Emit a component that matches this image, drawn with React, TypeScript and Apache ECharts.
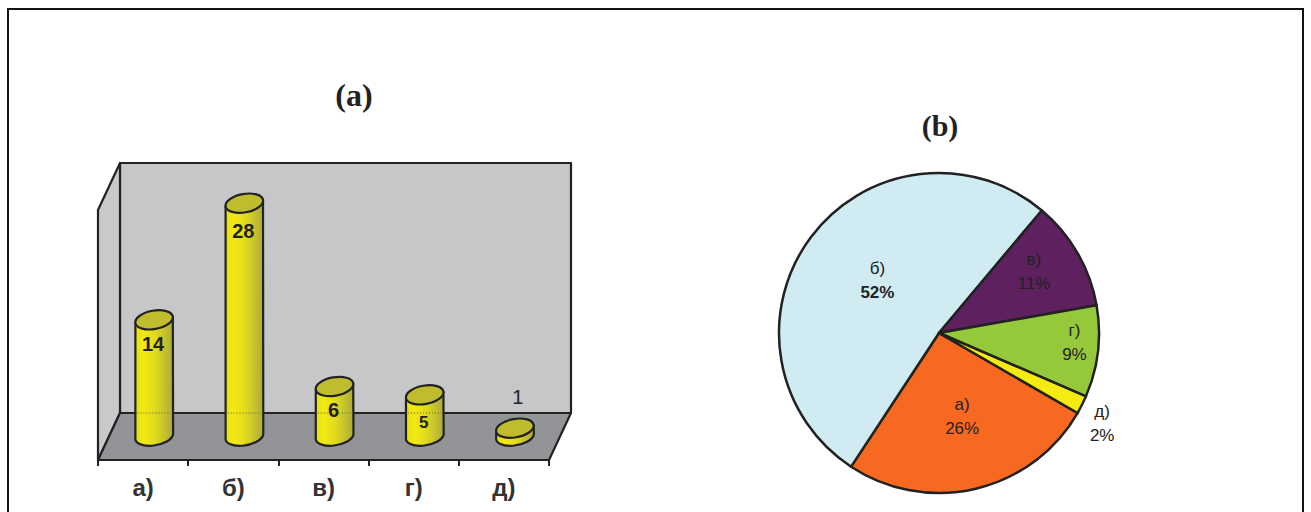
import React, { useEffect, useRef } from "react";
import * as echarts from "echarts";

// Survey answers shown both as counts and as shares of the total.
const categories = ["а)", "б)", "в)", "г)", "д)"];
const counts = [14, 28, 6, 5, 1];

const pieColors = ["#f76820", "#d0ecf2", "#5f2060", "#96c83c", "#f4ec10"];

// Value label placement relative to the top of each cylinder, and its type size.
const countLabelOffsets = [24, 28, 23, 28, -31];
const countLabelSizes = [20, 20, 20, 17, 20];
const countLabelWeights = ["bold", "bold", "bold", "bold", "normal"];

// Pie label nudges from the default inside position.
const pieLabelNudges = [
  [4, 3],
  [5, -3],
  [23, -20],
  [53, 0],
  [89, 53],
];

const SANS = '"Liberation Sans", Arial, sans-serif';
const SERIF = '"Liberation Serif", "Times New Roman", serif';
const INK = "#222222";

// Depth of the 3D box, in pixels.
const DEPTH_X = 22;
const DEPTH_Y = -47;

const CYL_RX = 19;
const CYL_RY = 9.2;
const CYL_TILT = 10;
const CYL_BASE_LIFT = 2;

function renderBox(params: any) {
  const { x, y, width, height } = params.coordSys;
  const bottom = y + height;
  const line = { stroke: INK, lineWidth: 2.2, lineJoin: "round" };
  return {
    type: "group",
    children: [
      {
        type: "polygon",
        shape: {
          points: [
            [x + DEPTH_X, y + DEPTH_Y],
            [x + width + DEPTH_X, y + DEPTH_Y],
            [x + width + DEPTH_X, bottom + DEPTH_Y],
            [x + DEPTH_X, bottom + DEPTH_Y],
          ],
        },
        style: { fill: "#c6c7c9", ...line },
      },
      {
        type: "polygon",
        shape: {
          points: [
            [x, y],
            [x + DEPTH_X, y + DEPTH_Y],
            [x + DEPTH_X, bottom + DEPTH_Y],
            [x, bottom],
          ],
        },
        style: { fill: "#c8c9cb", ...line },
      },
      {
        type: "polygon",
        shape: {
          points: [
            [x, bottom],
            [x + DEPTH_X, bottom + DEPTH_Y],
            [x + width + DEPTH_X, bottom + DEPTH_Y],
            [x + width, bottom],
          ],
        },
        style: { fill: "#939498", ...line },
      },
    ],
  };
}

function renderCylinder(params: any, api: any) {
  const index = api.value(0);
  const value = api.value(1);
  const base = api.coord([index, 0]);
  const top = api.coord([index, value]);
  const cx = base[0] + DEPTH_X / 2;
  const baseY = base[1] + DEPTH_Y / 2 - CYL_BASE_LIFT;
  const topY = top[1] + DEPTH_Y / 2;
  const floorBack = params.coordSys.y + params.coordSys.height + DEPTH_Y;

  const rad = (CYL_TILT * Math.PI) / 180;
  const ex = CYL_RX * Math.cos(rad);
  const ey = CYL_RX * Math.sin(rad);

  const body = [
    `M${cx - ex} ${topY + ey}`,
    `L${cx - ex} ${baseY + ey}`,
    `A${CYL_RX} ${CYL_RY} ${-CYL_TILT} 0 0 ${cx + ex} ${baseY - ey}`,
    `L${cx + ex} ${topY - ey}`,
    "Z",
  ].join(" ");

  const children: any[] = [
    {
      type: "path",
      shape: { pathData: body },
      style: {
        fill: new echarts.graphic.LinearGradient(0, 0, 1, 0, [
          { offset: 0, color: "#e6de16" },
          { offset: 0.22, color: "#f2ea12" },
          { offset: 0.5, color: "#e2dc1c" },
          { offset: 0.75, color: "#c8c42c" },
          { offset: 1, color: "#aca93c" },
        ]),
        stroke: INK,
        lineWidth: 2.2,
        lineJoin: "round",
      },
    },
  ];

  // The back edge of the floor shows faintly through the taller cylinders.
  if (topY < floorBack) {
    children.push({
      type: "line",
      shape: { x1: cx - ex + 2, y1: floorBack, x2: cx + ex - 2, y2: floorBack },
      style: { stroke: "rgba(110,105,40,0.55)", lineWidth: 2, lineDash: [1, 2] },
    });
  }

  children.push({
    type: "ellipse",
    x: cx,
    y: topY,
    rotation: rad,
    shape: { cx: 0, cy: 0, rx: CYL_RX, ry: CYL_RY },
    style: { fill: "#bfbc2e", stroke: INK, lineWidth: 2.2 },
  });

  children.push({
    type: "text",
    x: cx + (index === 4 ? 3 : -1),
    y: topY + countLabelOffsets[index],
    style: {
      text: String(value),
      align: "center",
      verticalAlign: "middle",
      fill: INK,
      fontFamily: SANS,
      fontSize: countLabelSizes[index],
      fontWeight: countLabelWeights[index],
    },
  });

  return { type: "group", children };
}

function pieLabel(item: any) {
  const name = item.name;
  const pct = `${item.percent}%`;
  return item.dataIndex === 1 ? `{n|${name}}\n{b|${pct}}` : `{n|${name}}\n{n|${pct}}`;
}

export default function App() {
  const ref = useRef<HTMLDivElement>(null);

  useEffect(() => {
    const chart = echarts.init(ref.current!, undefined, { renderer: "svg" });
    chart.setOption({
      animation: false,
      backgroundColor: "#ffffff",
      title: [
        {
          text: "(a)",
          left: 349,
          top: 74,
          textAlign: "center",
          textStyle: { fontFamily: SERIF, fontWeight: "bold", fontSize: 32, color: INK },
        },
        {
          text: "(b)",
          left: 935,
          top: 105,
          textAlign: "center",
          textStyle: { fontFamily: SERIF, fontWeight: "bold", fontSize: 30, color: INK },
        },
      ],
      grid: { left: 98, top: 210, width: 451, height: 250 },
      xAxis: {
        type: "category",
        data: categories,
        boundaryGap: true,
        z: 5,
        axisLine: { show: true, lineStyle: { color: INK, width: 2.2 } },
        axisTick: {
          show: true,
          interval: 0,
          alignWithLabel: false,
          length: 6,
          lineStyle: { color: INK, width: 2 },
        },
        axisLabel: {
          fontFamily: SANS,
          fontWeight: "bold",
          fontSize: 24,
          color: "#333333",
          margin: 15,
        },
      },
      yAxis: { type: "value", min: 0, max: 30, show: false },
      graphic: [
        {
          type: "rect",
          shape: { x: 8, y: 9, width: 1295, height: 530 },
          style: { fill: "none", stroke: "#111111", lineWidth: 2 },
        },
      ],
      series: [
        {
          type: "custom",
          name: "box",
          z: 1,
          silent: true,
          clip: false,
          data: [[0, 0]],
          renderItem: renderBox,
        },
        {
          type: "custom",
          name: "counts",
          z: 3,
          clip: false,
          data: counts.map((v, i) => [i, v]),
          encode: { x: 0, y: 1 },
          renderItem: renderCylinder,
        },
        {
          type: "pie",
          center: [939, 333],
          radius: 160,
          startAngle: 330,
          clockwise: true,
          percentPrecision: 0,
          avoidLabelOverlap: false,
          data: categories.map((name, i) => ({
            name,
            value: counts[i],
            itemStyle: { color: pieColors[i] },
          })),
          itemStyle: { borderColor: INK, borderWidth: 2.5 },
          label: {
            position: "inside",
            formatter: pieLabel,
            rich: {
              n: { fontFamily: SANS, fontSize: 17, lineHeight: 24, color: INK },
              b: { fontFamily: SANS, fontSize: 17, lineHeight: 24, fontWeight: "bold", color: INK },
            },
          },
          labelLine: { show: false },
          labelLayout: (p: any) => ({
            dx: pieLabelNudges[p.dataIndex][0],
            dy: pieLabelNudges[p.dataIndex][1],
          }),
          emphasis: { disabled: true },
        },
      ],
    });
    return () => chart.dispose();
  }, []);

  return <div ref={ref} style={{ position: "fixed", left: 0, top: 0, width: 1311, height: 512 }} />;
}
